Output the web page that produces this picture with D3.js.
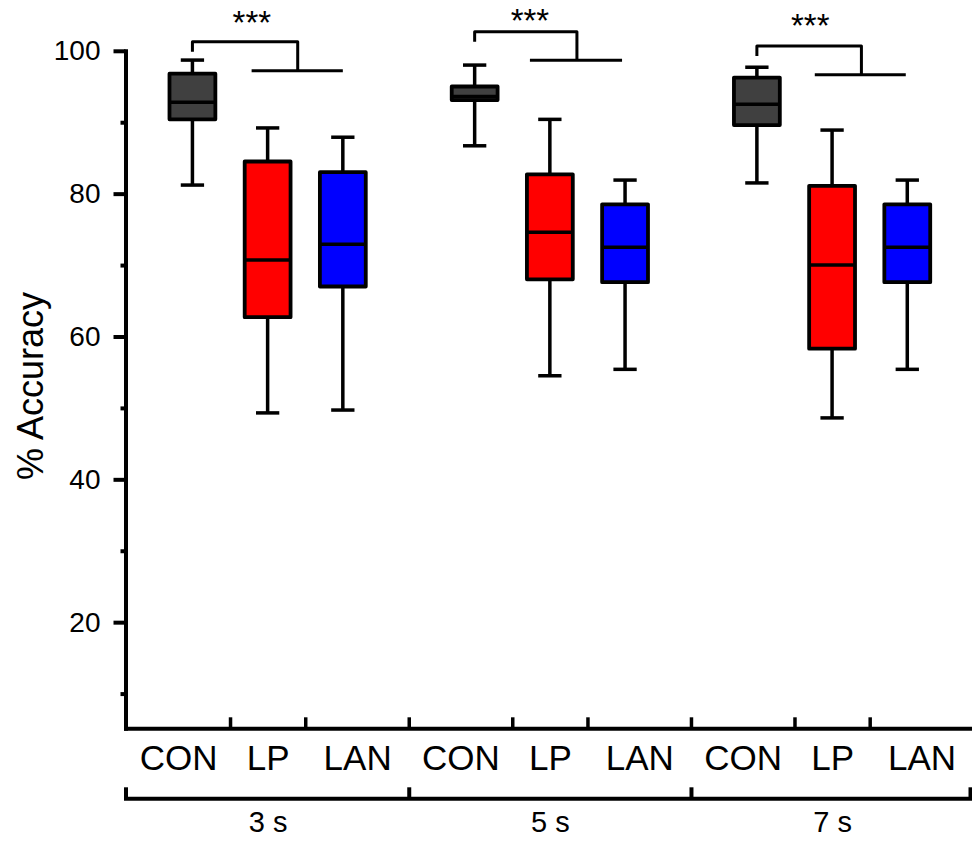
<!DOCTYPE html>
<html>
<head>
<meta charset="utf-8">
<script src="https://cdn.jsdelivr.net/npm/d3@7"></script>
<style>
  html, body { margin: 0; padding: 0; background: #fff; }
  svg { display: block; font-family: "Liberation Sans", Arial, sans-serif; }
</style>
</head>
<body>
<script>
// ---------------- data ----------------
const groups = ["3 s", "5 s", "7 s"];
const categories = ["CON", "LP", "LAN"];

// per category, one value per group (3 s, 5 s, 7 s)
const whiskerLow = {
  CON: [81.2, 86.7, 81.5],
  LP:  [49.3, 54.5, 48.6],
  LAN: [49.7, 55.4, 55.4]
};
const q1 = {
  CON: [90.4, 93.1, 89.6],
  LP:  [62.7, 68.0, 58.3],
  LAN: [67.0, 67.6, 67.6]
};
const median = {
  CON: [92.8, 93.6, 92.5],
  LP:  [70.7, 74.6, 70.0],
  LAN: [72.9, 72.5, 72.5]
};
const q3 = {
  CON: [96.8, 95.0, 96.25],
  LP:  [84.5, 82.7, 81.1],
  LAN: [83.0, 78.5, 78.5]
};
const whiskerHigh = {
  CON: [98.7, 98.0, 97.7],
  LP:  [89.2, 90.4, 88.9],
  LAN: [87.9, 81.9, 81.9]
};

const yTicksMajor = [20, 40, 60, 80, 100];
const yTicksMinor = [10, 30, 50, 70, 90];

// significance brackets (y in % units, x in category units relative to CON)
const sigLabel = ["***", "***", "***"];
const bracketTop = [101.27, 102.67, 100.67];
const bracketLegEnd = [99.87, 101.27, 99.27];
const bracketBarY = [97.21, 98.67, 96.65];
const bracketStemX = [1.40, 1.36, 1.39];
const bracketBarX0 = [0.787, 0.735, 0.77];
const bracketBarX1 = [2.0, 1.96, 1.98];
const starX = [0.79, 0.735, 0.71];
const starY = [105.0, 105.25, 104.63];

const fillColors = { CON: "#404040", LP: "#ff0000", LAN: "#0000ff" };

// ---------------- layout ----------------
const W = 972, H = 841;
const groupStep = 3.753;
const labelSpread = 0.19;
const svg = d3.select("body").append("svg").attr("width", W).attr("height", H);

const x = d3.scaleLinear().domain([-0.89, 10.34]).range([125.5, 970]);
const y = d3.scaleLinear().domain([5.14, 100]).range([728.3, 50.8]);
const unit = x(1) - x(0);
const pos = (g, i) => g * groupStep + i;

const boxes = [];
groups.forEach((gname, g) => {
  categories.forEach((c, i) => {
    boxes.push({
      g, c, i, p: pos(g, i),
      lo: whiskerLow[c][g], q1: q1[c][g], med: median[c][g],
      q3: q3[c][g], hi: whiskerHigh[c][g]
    });
  });
});

const boxW = unit * 0.61;
const capW = unit * 0.31;

// ---------------- boxes ----------------
const bg = svg.append("g").attr("class", "boxes");
const b = bg.selectAll("g.box").data(boxes).join("g").attr("class", "box");

b.append("line")
  .attr("x1", d => x(d.p)).attr("x2", d => x(d.p))
  .attr("y1", d => y(d.hi)).attr("y2", d => y(d.lo))
  .attr("stroke", "#000").attr("stroke-width", 3.5);
b.append("line")
  .attr("x1", d => x(d.p) - capW / 2).attr("x2", d => x(d.p) + capW / 2)
  .attr("y1", d => y(d.hi)).attr("y2", d => y(d.hi))
  .attr("stroke", "#000").attr("stroke-width", 3.5);
b.append("line")
  .attr("x1", d => x(d.p) - capW / 2).attr("x2", d => x(d.p) + capW / 2)
  .attr("y1", d => y(d.lo)).attr("y2", d => y(d.lo))
  .attr("stroke", "#000").attr("stroke-width", 3.5);
b.append("rect")
  .attr("x", d => x(d.p) - boxW / 2)
  .attr("width", boxW)
  .attr("y", d => y(d.q3))
  .attr("height", d => y(d.q1) - y(d.q3))
  .attr("fill", d => fillColors[d.c])
  .attr("stroke", "#000").attr("stroke-width", 3.8)
  .attr("stroke-linejoin", "round");
b.append("line")
  .attr("x1", d => x(d.p) - boxW / 2).attr("x2", d => x(d.p) + boxW / 2)
  .attr("y1", d => y(d.med)).attr("y2", d => y(d.med))
  .attr("stroke", "#000").attr("stroke-width", 3.5);

// ---------------- y axis ----------------
const yAxisG = svg.append("g").attr("transform", `translate(${x.range()[0]},0)`);
yAxisG.call(d3.axisLeft(y).tickValues(yTicksMajor).tickSize(12).tickSizeOuter(0).tickPadding(13).tickFormat(d3.format("d")));
yAxisG.select(".domain").attr("stroke-width", 4).attr("stroke-linecap", "square");
yAxisG.selectAll(".tick line").attr("stroke-width", 4);
yAxisG.selectAll(".tick text").attr("font-size", 28).attr("fill", "#000")
  .attr("font-family", "'Liberation Sans', Arial, sans-serif");

const yMinorG = svg.append("g").attr("transform", `translate(${x.range()[0]},0)`);
yMinorG.call(d3.axisLeft(y).tickValues(yTicksMinor).tickSize(5).tickFormat(""));
yMinorG.select(".domain").remove();
yMinorG.selectAll(".tick line").attr("stroke-width", 4);

svg.append("text")
  .attr("transform", `translate(43,386) rotate(-90)`)
  .attr("text-anchor", "middle")
  .attr("font-size", 36)
  .attr("fill", "#000")
  .text("% Accuracy");

// ---------------- x axis (categories) ----------------
const catPositions = boxes.map(d => d.p);
const labelPositions = boxes.map(d => d.p + (d.i - 1) * labelSpread);
const separators = [];
for (let k = 0; k < catPositions.length - 1; k++) separators.push((catPositions[k] + catPositions[k + 1]) / 2);

const xAxisG = svg.append("g").attr("transform", `translate(0,${y.range()[0]})`);
xAxisG.call(d3.axisBottom(x).tickValues(separators).tickSize(-11).tickSizeOuter(0).tickFormat(""));
xAxisG.select(".domain").attr("stroke-width", 4).attr("stroke-linecap", "square");
xAxisG.selectAll(".tick line").attr("stroke-width", 3.5);

const xLabG = svg.append("g").attr("transform", `translate(0,${y.range()[0]})`);
xLabG.call(d3.axisBottom(x).tickValues(labelPositions).tickSize(0).tickPadding(16.5)
  .tickFormat((d, i) => categories[i % categories.length]));
xLabG.select(".domain").remove();
xLabG.selectAll(".tick text").attr("font-size", 35).attr("fill", "#000")
  .attr("font-family", "'Liberation Sans', Arial, sans-serif");

// ---------------- group axis ----------------
const groupEdges = [x.domain()[0]];
for (let g = 0; g < groups.length - 1; g++) groupEdges.push((pos(g, 2) + pos(g + 1, 0)) / 2);
groupEdges.push(x.domain()[1]);

const gAxisG = svg.append("g").attr("transform", `translate(0,798.3)`);
gAxisG.call(d3.axisBottom(x).tickValues(groupEdges).tickSize(-11).tickSizeOuter(0).tickFormat(""));
gAxisG.select(".domain").attr("stroke-width", 4).attr("stroke-linecap", "square");
gAxisG.selectAll(".tick line").attr("stroke-width", 4);

const gLabG = svg.append("g").attr("transform", `translate(0,798.3)`);
gLabG.call(d3.axisBottom(x).tickValues(groups.map((_, g) => pos(g, 1))).tickSize(0).tickPadding(13.5)
  .tickFormat((d, i) => groups[i]));
gLabG.select(".domain").remove();
gLabG.selectAll(".tick text").attr("font-size", 29).attr("fill", "#000")
  .attr("font-family", "'Liberation Sans', Arial, sans-serif");

// ---------------- significance brackets ----------------
const sg = svg.append("g").attr("class", "sig");
groups.forEach((gname, g) => {
  const x0 = pos(g, 0);
  const path = d3.path();
  path.moveTo(x(x0), y(bracketLegEnd[g]));
  path.lineTo(x(x0), y(bracketTop[g]));
  path.lineTo(x(x0 + bracketStemX[g]), y(bracketTop[g]));
  path.lineTo(x(x0 + bracketStemX[g]), y(bracketBarY[g]));
  sg.append("path").attr("d", path.toString())
    .attr("fill", "none").attr("stroke", "#000").attr("stroke-width", 3)
    .attr("stroke-linejoin", "round");
  sg.append("line")
    .attr("x1", x(x0 + bracketBarX0[g])).attr("x2", x(x0 + bracketBarX1[g]))
    .attr("y1", y(bracketBarY[g])).attr("y2", y(bracketBarY[g]))
    .attr("stroke", "#000").attr("stroke-width", 3);
  sg.append("text")
    .attr("x", x(x0 + starX[g]))
    .attr("y", y(starY[g]) + 0.58 * 33)
    .attr("text-anchor", "middle")
    .attr("font-size", 33)
    .attr("fill", "#000")
    .text(sigLabel[g]);
});
</script>
</body>
</html>
